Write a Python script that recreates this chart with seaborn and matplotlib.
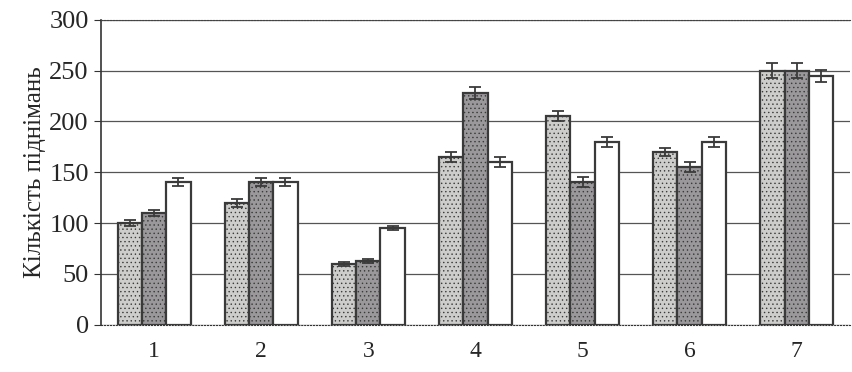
import numpy as np
import pandas as pd
import matplotlib
matplotlib.use("Agg")
import matplotlib.pyplot as plt
import seaborn as sns

groups = ["1", "2", "3", "4", "5", "6", "7"]
series = ["a", "b", "c"]
vals_a = [100, 120, 60, 165, 205, 170, 250]
vals_b = [110, 140, 63, 228, 140, 155, 250]
vals_c = [140, 140, 95, 160, 180, 180, 245]
err_a = [3, 4, 2, 5, 5, 4, 7]
err_b = [3, 4, 2, 6, 5, 5, 7]
err_c = [4, 4, 2, 5, 5, 5, 6]

df = pd.DataFrame({
    "group": groups * 3,
    "series": ["a"] * 7 + ["b"] * 7 + ["c"] * 7,
    "value": vals_a + vals_b + vals_c,
    "err": err_a + err_b + err_c,
})

sns.set_style("white")
plt.rcParams["font.family"] = ["Liberation Serif", "DejaVu Serif"]
plt.rcParams["hatch.color"] = "#5a5a5a"
plt.rcParams["hatch.linewidth"] = 0.5

fig = plt.figure(figsize=(8.52, 3.72), dpi=100)
ax = fig.add_axes([0.118, 0.127, 0.88, 0.82])

colors = {"a": "#cdcfca", "b": "#9a989a", "c": "#ffffff"}
sns.barplot(data=df, x="group", y="value", hue="series", palette=colors,
            width=0.68, gap=0, errorbar=None, edgecolor="#3a3a3a",
            linewidth=1.6, legend=False, ax=ax, zorder=3)

# stipple texture for the two grey series
for i, p in enumerate(ax.patches):
    s = i // 7
    if s in (0, 1):
        p.set_hatch("....")

# error bars on patch centres
for p, (_, row) in zip(ax.patches, df.iterrows()):
    cx = p.get_x() + p.get_width() / 2
    ax.errorbar(cx, row["value"], yerr=row["err"], fmt="none",
                ecolor="#3a3a3a", elinewidth=1.3, capsize=4, capthick=1.3, zorder=4)

ax.set_ylim(0, 300)
ax.set_xlim(-0.5, 6.5)
ax.set_yticks([0, 50, 100, 150, 200, 250, 300])
ax.yaxis.grid(True, color="#555555", linewidth=0.9, zorder=0)
ax.set_axisbelow(True)
ax.set_xlabel("")
ax.set_ylabel("Кількість піднімань", fontsize=18, labelpad=2)
ax.tick_params(axis="y", labelsize=19, length=5, direction="out", left=True, color="#333333")
ax.tick_params(axis="x", labelsize=17, length=0, pad=12)

ax.spines["right"].set_visible(False)
ax.spines["top"].set_linestyle(":")
ax.spines["top"].set_color("#444444")
ax.spines["left"].set_color("#333333")
ax.spines["left"].set_linewidth(1.2)
ax.spines["bottom"].set_color("#333333")
ax.spines["bottom"].set_linestyle(":")

fig.savefig("out.png", dpi=100)
